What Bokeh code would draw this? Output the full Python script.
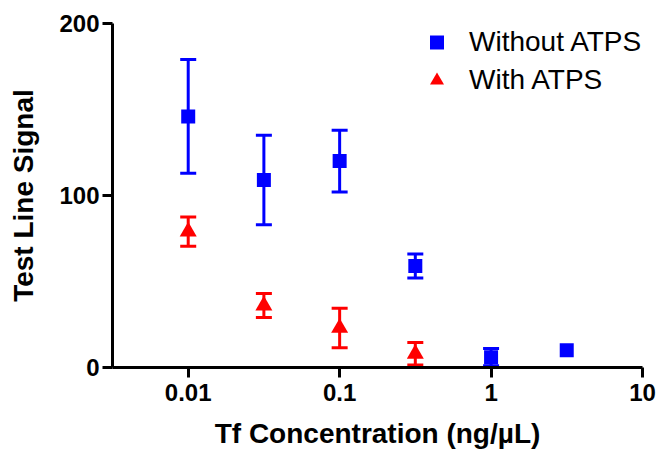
from bokeh.plotting import figure
from bokeh.models import ColumnDataSource, Whisker, FixedTicker, Legend, LegendItem, Range1d, TeeHead
from bokeh.embed import file_html
from bokeh.resources import INLINE

# Data
conc_without = [0.01, 0.0316, 0.1, 0.316, 1.0, 3.16]
signal_without = [146, 109, 120, 59, 6, 10]
err_without = [33, 26, 18, 7, 5, 0]

conc_with = [0.01, 0.0316, 0.1, 0.316]
signal_with = [79, 36, 23, 8]
err_with = [8.5, 7, 11.5, 6.5]

x_ticks = [0.01, 0.1, 1, 10]
x_tick_labels = ["0.01", "0.1", "1", "10"]
y_ticks = [0, 100, 200]

BLUE = "#0000FF"
RED = "#FF0000"
FONT = "Liberation Sans"

p = figure(width=657, height=451, x_axis_type="log",
           x_range=Range1d(10 ** -2.5, 10), y_range=Range1d(0, 200),
           output_backend="svg", toolbar_location=None,
           min_border_left=112, min_border_right=15,
           min_border_top=23, min_border_bottom=83)
p.outline_line_color = None
p.xgrid.visible = False
p.ygrid.visible = False
p.background_fill_color = "white"
p.border_fill_color = "white"


def whisker_source(xs, ys, es):
    keep = [i for i, e in enumerate(es) if e > 0]
    return ColumnDataSource(dict(
        x=[xs[i] for i in keep],
        upper=[ys[i] + es[i] for i in keep],
        lower=[ys[i] - es[i] for i in keep]))


for xs, ys, es, col in [(conc_without, signal_without, err_without, BLUE),
                        (conc_with, signal_with, err_with, RED)]:
    src = whisker_source(xs, ys, es)
    w = Whisker(source=src, base="x", upper="upper", lower="lower",
                line_color=col, line_width=3,
                upper_head=TeeHead(size=16, line_color=col, line_width=3),
                lower_head=TeeHead(size=16, line_color=col, line_width=3),
                level="underlay")
    p.add_layout(w)

src_wo = ColumnDataSource(dict(x=conc_without, y=signal_without))
src_w = ColumnDataSource(dict(x=conc_with, y=signal_with))
r_wo = p.scatter("x", "y", source=src_wo, marker="square", size=14,
                 fill_color=BLUE, line_color=BLUE, line_width=0)
r_w = p.scatter("x", "y", source=src_w, marker="triangle", size=17,
                fill_color=RED, line_color=RED, line_width=0)

# Axes
for ax in (p.xaxis[0], p.yaxis[0]):
    ax.axis_line_width = 3
    ax.axis_line_color = "black"
    ax.major_tick_line_width = 3
    ax.major_tick_line_color = "black"
    ax.major_tick_in = 0
    ax.major_tick_out = 10
    ax.minor_tick_line_color = None
    ax.major_label_text_font = FONT
    ax.major_label_text_font_style = "bold"
    ax.major_label_text_font_size = "24px"
    ax.major_label_text_color = "black"
    ax.axis_label_text_font = FONT
    ax.axis_label_text_font_style = "bold"
    ax.axis_label_text_font_size = "28px"
    ax.axis_label_text_color = "black"

p.xaxis.ticker = FixedTicker(ticks=x_ticks)
p.xaxis.major_label_overrides = {t: l for t, l in zip(x_ticks, x_tick_labels)}
p.xaxis.major_label_standoff = 6
p.xaxis.axis_label = "Tf Concentration (ng/µL)"
p.xaxis.axis_label_standoff = 14

p.yaxis.ticker = FixedTicker(ticks=y_ticks)
p.yaxis.major_label_standoff = 3
p.yaxis.axis_label = "Test Line Signal"
p.yaxis.axis_label_standoff = 17

legend = Legend(items=[LegendItem(label="Without ATPS", renderers=[r_wo]),
                       LegendItem(label="With ATPS", renderers=[r_w])],
                location=(307, 268))
legend.border_line_color = None
legend.background_fill_alpha = 0
legend.padding = 0
legend.margin = 0
legend.spacing = 0
legend.glyph_width = 35
legend.glyph_height = 38
legend.label_height = 38
legend.label_standoff = 15
legend.label_text_font = FONT
legend.label_text_font_size = "28px"
legend.label_text_color = "black"
p.add_layout(legend)

open("out.html", "w").write(file_html(p, INLINE))
